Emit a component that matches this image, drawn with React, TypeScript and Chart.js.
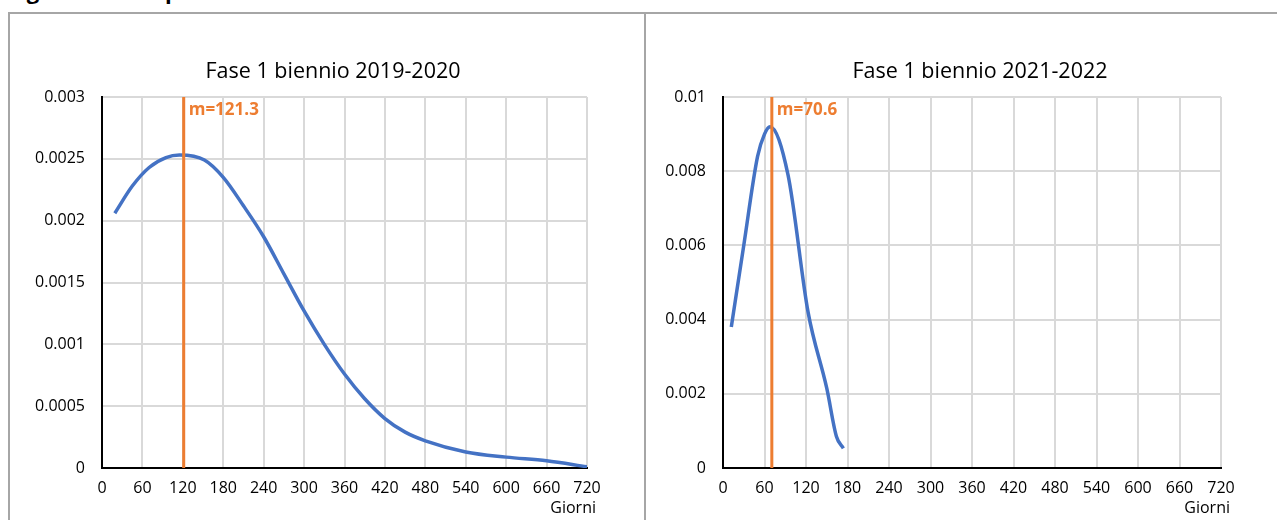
import React, { useEffect, useRef } from "react";
import { Chart, registerables } from "chart.js";

Chart.register(...registerables);

const FONT = '"Open Sans", "Noto Sans", sans-serif';

const pageHeading = "Figura 2 – Tempi di attesa";
const xAxisTitle = "Giorni";
const xTickLabels = ["0", "60", "120", "180", "240", "300", "360", "420", "480", "540", "600", "660", "720"];

const leftTitle = "Fase 1 biennio 2019-2020";
const leftDays = [19, 45, 70, 95, 115, 152, 180, 210, 240, 270, 300, 330, 360, 390, 420, 450, 480, 540, 600, 660, 720];
const leftDensity = [0.00206, 0.00228, 0.00243, 0.00251, 0.00253, 0.00249, 0.00235, 0.00212, 0.00187, 0.00157, 0.00127, 0.001, 0.00076, 0.00056, 0.0004, 0.00029, 0.00022, 0.00013, 0.000088, 0.000058, 0.00001];
const leftMean = 121.3;
const leftYTickLabels = ["0", "0.0005", "0.001", "0.0015", "0.002", "0.0025", "0.003"];

const rightTitle = "Fase 1 biennio 2021-2022";
const rightDays = [12, 30, 50, 60, 68, 94, 123, 150, 164, 174];
const rightDensity = [0.0038, 0.006, 0.0084, 0.009, 0.0092, 0.0079, 0.0042, 0.00215, 0.00085, 0.00053];
const rightMean = 70.6;
const rightYTickLabels = ["0", "0.002", "0.004", "0.006", "0.008", "0.01"];

const BLUE = "#4472C4";
const ORANGE = "#ED7D31";
const GRID = "#d9d9d9";

const annotate = {
  id: "annotate",
  afterDraw(chart: any, _args: any, opts: any) {
    const { ctx, chartArea, scales } = chart;
    ctx.save();
    ctx.textBaseline = "middle";
    ctx.fillStyle = "#000";
    ctx.font = `21.5px ${FONT}`;
    ctx.textAlign = "center";
    ctx.fillText(opts.title, opts.titleX, opts.titleY);
    ctx.font = `bold 17px ${FONT}`;
    ctx.fillStyle = ORANGE;
    ctx.textAlign = "left";
    ctx.fillText(`m=${opts.mean}`, scales.x.getPixelForValue(opts.mean) + 5, chartArea.top + 13);
    ctx.font = `16px ${FONT}`;
    ctx.fillStyle = "#000";
    ctx.textAlign = "right";
    ctx.fillText(opts.xTitle, chartArea.right + 9, chartArea.bottom + 40);
    ctx.restore();
  },
};

type PanelCfg = {
  days: number[];
  density: number[];
  mean: number;
  yMax: number;
  yStep: number;
  yLabels: string[];
  title: string;
  titleX: number;
  width: number;
  yWidth: number;
  padRight: number;
};

const HEIGHT = 506;

function buildConfig(c: PanelCfg): any {
  return {
    type: "line",
    data: {
      datasets: [
        {
          data: [
            { x: c.mean, y: 0 },
            { x: c.mean, y: c.yMax },
          ],
          borderColor: ORANGE,
          borderWidth: 3,
          pointRadius: 0,
          fill: false,
        },
        {
          data: c.days.map((d, i) => ({ x: d, y: c.density[i] })),
          borderColor: BLUE,
          borderWidth: 3.5,
          pointRadius: 0,
          cubicInterpolationMode: "monotone",
          fill: false,
        },
      ],
    },
    options: {
      responsive: false,
      animation: false,
      events: [],
      layout: { padding: { top: 83, right: c.padRight, bottom: 0, left: 0 } },
      plugins: {
        legend: { display: false },
        tooltip: { enabled: false },
        title: { display: false },
        annotate: { title: c.title, titleX: c.titleX, titleY: 58, mean: c.mean, xTitle: xAxisTitle },
      },
      scales: {
        x: {
          type: "linear",
          min: 0,
          max: 720,
          afterFit: (s: any) => {
            s.height = HEIGHT - 454;
          },
          ticks: {
            stepSize: 60,
            padding: 11,
            maxRotation: 0,
            autoSkip: false,
            color: "#000",
            font: { family: FONT, size: 16 },
            callback: (_v: any, i: number) => xTickLabels[i],
          },
          grid: { color: GRID, lineWidth: 2, drawTicks: false },
          border: { color: "#000", width: 2 },
        },
        y: {
          type: "linear",
          min: 0,
          max: c.yMax,
          afterFit: (s: any) => {
            s.width = c.yWidth;
          },
          ticks: {
            stepSize: c.yStep,
            padding: 17,
            color: "#000",
            font: { family: FONT, size: 16 },
            callback: (_v: any, i: number) => c.yLabels[i],
          },
          grid: { color: GRID, lineWidth: 2, drawTicks: false },
          border: { color: "#000", width: 2 },
        },
      },
    },
    plugins: [annotate],
  };
}

function Panel({ cfg, left, top }: { cfg: PanelCfg; left: number; top: number }) {
  const ref = useRef<HTMLCanvasElement>(null);
  useEffect(() => {
    const chart = new Chart(ref.current as HTMLCanvasElement, buildConfig(cfg));
    return () => chart.destroy();
  }, []);
  return (
    <canvas
      ref={ref}
      width={cfg.width}
      height={HEIGHT}
      style={{ position: "absolute", left, top, width: cfg.width, height: HEIGHT }}
    />
  );
}

const leftCfg: PanelCfg = {
  days: leftDays,
  density: leftDensity,
  mean: leftMean,
  yMax: 0.003,
  yStep: 0.0005,
  yLabels: leftYTickLabels,
  title: leftTitle,
  titleX: 323,
  width: 632,
  yWidth: 92,
  padRight: 55,
};

const rightCfg: PanelCfg = {
  days: rightDays,
  density: rightDensity,
  mean: rightMean,
  yMax: 0.01,
  yStep: 0.002,
  yLabels: rightYTickLabels,
  title: rightTitle,
  titleX: 334,
  width: 631,
  yWidth: 77,
  padRight: 56,
};

export default function App() {
  return (
    <div style={{ position: "fixed", left: 0, top: 0, width: 1277, height: 520, overflow: "hidden", background: "#fff" }}>
      <div
        style={{
          position: "absolute",
          left: 8,
          top: -20,
          font: `bold 22px ${FONT}`,
          lineHeight: "20px",
          whiteSpace: "nowrap",
          color: "#000",
        }}
      >
        {pageHeading}
      </div>
      <div
        style={{
          position: "absolute",
          left: 8,
          top: 12,
          width: 1300,
          height: 600,
          border: "2px solid #a6a6a6",
          boxSizing: "border-box",
        }}
      />
      <div style={{ position: "absolute", left: 644, top: 12, width: 2, height: 600, background: "#a6a6a6" }} />
      <Panel cfg={leftCfg} left={10} top={14} />
      <Panel cfg={rightCfg} left={646} top={14} />
    </div>
  );
}
